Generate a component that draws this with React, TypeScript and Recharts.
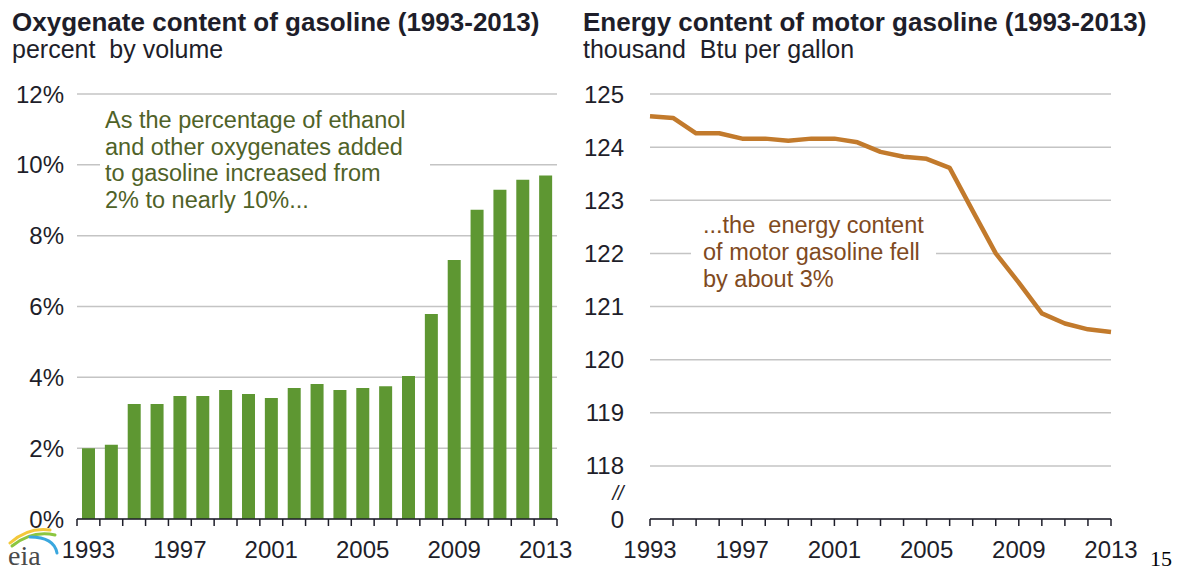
import { BarChart, Bar, LineChart, Line, XAxis, YAxis, CartesianGrid } from "recharts";

const years = [
  1993, 1994, 1995, 1996, 1997, 1998, 1999, 2000, 2001, 2002, 2003,
  2004, 2005, 2006, 2007, 2008, 2009, 2010, 2011, 2012, 2013,
];
const yearLabels = [1993, 1997, 2001, 2005, 2009, 2013];

// percent by volume
const oxygenatePct = [
  2.0, 2.1, 3.25, 3.25, 3.47, 3.47, 3.64, 3.53, 3.42, 3.7, 3.81,
  3.64, 3.7, 3.75, 4.04, 5.79, 7.31, 8.73, 9.3, 9.58, 9.7,
];
const pctTicks = [0, 2, 4, 6, 8, 10, 12];

// thousand Btu per gallon
const energyBtu = [
  124.58, 124.55, 124.26, 124.26, 124.16, 124.16, 124.12, 124.16, 124.16, 124.09, 123.91,
  123.82, 123.78, 123.61, 122.8, 122.0, 121.45, 120.87, 120.68, 120.57, 120.52,
];
const btuTicks = [117, 118, 119, 120, 121, 122, 123, 124, 125];

const leftNote = [
  "As the percentage of ethanol",
  "and other oxygenates added",
  "to gasoline increased from",
  "2% to nearly 10%...",
];
const rightNote = ["...the  energy content", "of motor gasoline fell", "by about 3%"];

const FONT = "'Liberation Sans', Arial, sans-serif";
const SERIF = "'Liberation Serif', 'Times New Roman', serif";
const INK = "#1e1e2a";
const GRID = "#c4c4c4";

const barData = years.map((year, i) => ({ year, pct: oxygenatePct[i] }));
const lineData = years.map((year, i) => ({ year, btu: energyBtu[i] }));

const BAR_PLOT_W = 480;
const band = BAR_PLOT_W / years.length;

// category axis: tick marks sit on the boundaries between bars
const BarYearTick = (props: any) => {
  const { x, y, index, payload } = props;
  const last = index === years.length - 1;
  return (
    <g>
      <line x1={x - band / 2} x2={x - band / 2} y1={y} y2={y + 7} stroke={INK} strokeWidth={1.5} />
      {last && <line x1={x + band / 2} x2={x + band / 2} y1={y} y2={y + 7} stroke={INK} strokeWidth={1.5} />}
      {yearLabels.includes(payload.value) && (
        <text x={x} y={y + 39} textAnchor="middle" fontSize={24} fontFamily={FONT} fill={INK}>
          {payload.value}
        </text>
      )}
    </g>
  );
};

const LineYearTick = (props: any) => {
  const { x, y, payload } = props;
  if (!yearLabels.includes(payload.value)) return <g />;
  return (
    <text x={x} y={y + 32} textAnchor="middle" fontSize={24} fontFamily={FONT} fill={INK}>
      {payload.value}
    </text>
  );
};

const yTick = { fontSize: 24, fontFamily: FONT, fill: INK };

const App = () => {
  return (
    <div style={{ position: "relative", width: 1181, height: 577, margin: -8, background: "#fff", overflow: "hidden" }}>
      <div style={{ position: "absolute", left: 0, top: 0 }}>
        <BarChart width={600} height={577} data={barData} margin={{ top: 94, right: 43, bottom: 0, left: 0 }}>
          <CartesianGrid vertical={false} stroke={GRID} strokeWidth={1.5} />
          <XAxis
            dataKey="year"
            interval={0}
            height={58}
            tickSize={0}
            tickMargin={0}
            tickLine={false}
            axisLine={{ stroke: INK, strokeWidth: 1.5 }}
            tick={BarYearTick}
          />
          <YAxis
            domain={[0, 12]}
            ticks={pctTicks}
            width={77}
            tickSize={0}
            tickMargin={13}
            tickLine={false}
            axisLine={false}
            tick={yTick}
            tickFormatter={(v: number) => `${v}%`}
          />
          <Bar dataKey="pct" fill="#5e9732" barSize={13} isAnimationActive={false} />
        </BarChart>
      </div>

      <div style={{ position: "absolute", left: 580, top: 0 }}>
        <LineChart width={580} height={577} data={lineData} margin={{ top: 94, right: 49, bottom: 0, left: 0 }}>
          <CartesianGrid vertical={false} stroke={GRID} strokeWidth={1.5} />
          <XAxis
            dataKey="year"
            type="number"
            domain={[1993, 2013]}
            ticks={years}
            interval={0}
            height={58}
            tickSize={7}
            tickMargin={0}
            tickLine={{ stroke: INK, strokeWidth: 1.5 }}
            axisLine={{ stroke: INK, strokeWidth: 1.5 }}
            tick={LineYearTick}
          />
          <YAxis
            domain={[117, 125]}
            ticks={btuTicks}
            width={70}
            tickSize={0}
            tickMargin={26}
            tickLine={false}
            axisLine={false}
            tick={yTick}
            tickFormatter={(v: number) => (v === 117 ? "0" : String(v))}
          />
          <Line
            type="linear"
            dataKey="btu"
            stroke="#c27a2c"
            strokeWidth={4.5}
            strokeLinejoin="round"
            dot={false}
            isAnimationActive={false}
          />
        </LineChart>
      </div>

      <svg width={1181} height={577} style={{ position: "absolute", left: 0, top: 0, pointerEvents: "none" }}>
        <g fontFamily={FONT} fill={INK}>
          <text x={12} y={31} fontSize={26} fontWeight="bold">Oxygenate content of gasoline (1993-2013)</text>
          <text x={12} y={58} fontSize={25} xmlSpace="preserve">percent  by volume</text>
          <text x={583} y={31} fontSize={26} fontWeight="bold">Energy content of motor gasoline (1993-2013)</text>
          <text x={583} y={58} fontSize={25} xmlSpace="preserve">thousand  Btu per gallon</text>
        </g>

        <rect x={100} y={104} width={330} height={108} fill="#fff" />
        <g fontFamily={FONT} fontSize={23.5} fill="#4f6228">
          {leftNote.map((t, i) => (
            <text key={t} x={105} y={128 + i * 26.5}>{t}</text>
          ))}
        </g>

        <rect x={691} y={206} width={245} height={84} fill="#fff" />
        <g fontFamily={FONT} fontSize={23.5} fill="#7f4a21">
          {rightNote.map((t, i) => (
            <text key={t} x={703} y={233 + i * 27} xmlSpace="preserve">{t}</text>
          ))}
        </g>

        <text x={618} y={500} textAnchor="middle" fontFamily={FONT} fontSize={20} fontStyle="italic" fill={INK}>//</text>

        <text x={1150} y={566} fontFamily={SERIF} fontSize={22} fill="#000">15</text>

        <g fill="none" strokeLinecap="round">
          <path d="M 10 543 Q 28 527 50 530" stroke="#f3c83a" strokeWidth={3} />
          <path d="M 12 546 Q 32 530 55 535" stroke="#8cc63f" strokeWidth={3} />
          <path d="M 30 537 Q 54 537 57 553" stroke="#3aa7de" strokeWidth={3} />
        </g>
        <text x={8} y={565} fontFamily={SERIF} fontSize={28} fill="#4a4a4a">eia</text>
      </svg>
    </div>
  );
};

export default App;
